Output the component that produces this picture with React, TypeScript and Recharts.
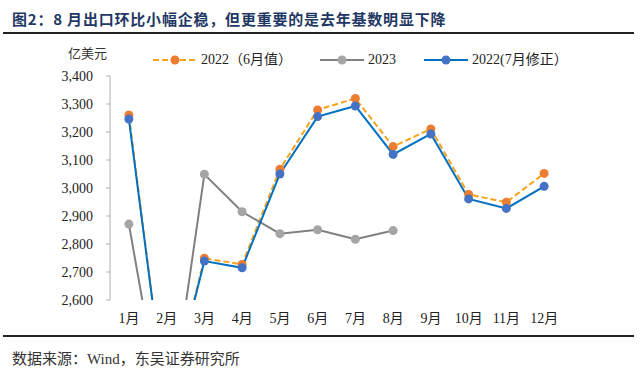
import React from 'react';
import { LineChart, Line, XAxis, YAxis } from 'recharts';

const months = ['1月', '2月', '3月', '4月', '5月', '6月', '7月', '8月', '9月', '10月', '11月', '12月'];
const v2022June = [3261, 2200, 2749, 2727, 3067, 3279, 3320, 3148, 3211, 2977, 2949, 3052];
const v2023 = [2871, 2110, 3049, 2915, 2837, 2851, 2817, 2848];
const v2022July = [3246, 2205, 2739, 2715, 3050, 3255, 3293, 3120, 3193, 2961, 2927, 3006];
const yTicks = [2600, 2700, 2800, 2900, 3000, 3100, 3200, 3300, 3400];

const series = [
  { key: 'june', name: '2022（6月值）', line: '#F7A21B', dot: '#ED7D31', dash: '6 3' },
  { key: 'y2023', name: '2023', line: '#808080', dot: '#A5A5A5', dash: undefined },
  { key: 'july', name: '2022(7月修正）', line: '#0070C0', dot: '#4472C4', dash: undefined },
];

const data = months.map((m, i) => {
  const row: any = { x: i + 1, month: m, june: v2022June[i], july: v2022July[i] };
  if (i < v2023.length) row.y2023 = v2023[i];
  return row;
});

const centerTicks = months.map((_, i) => i + 1);
const boundaryTicks = months.map((_, i) => i + 0.5).concat([months.length + 0.5]);

const serif = "'Liberation Serif', 'Times New Roman', 'Noto Sans CJK SC', serif";

function LegendIcon({ s }: { s: any }) {
  return (
    <svg width={44} height={12} style={{ display: 'block' }}>
      <line x1={0} y1={6} x2={44} y2={6} stroke={s.line} strokeWidth={2} strokeDasharray={s.dash} />
      <circle cx={22} cy={6} r={4.5} fill={s.dot} />
    </svg>
  );
}

export default function App() {
  return (
    <div style={{ position: 'absolute', left: 0, top: 0, width: 640, height: 370, background: '#fff', overflow: 'hidden' }}>
      <div
        style={{
          position: 'absolute', left: 12, top: 10, fontSize: 15, lineHeight: '18px', fontWeight: 'bold',
          color: '#1F3864', letterSpacing: 0.8, fontFamily: "'Noto Sans CJK SC', sans-serif", whiteSpace: 'nowrap',
        }}
      >
        图2：8 月出口环比小幅企稳，但更重要的是去年基数明显下降
      </div>
      <div style={{ position: 'absolute', left: 3, top: 32, width: 631, height: 2, background: '#222' }} />

      <div style={{ position: 'absolute', left: 68, top: 45, fontSize: 13, lineHeight: '16px', color: '#333', fontFamily: "'Noto Sans CJK SC', sans-serif" }}>
        亿美元
      </div>

      <div style={{ position: 'absolute', left: 153, top: 51, display: 'flex', alignItems: 'center', fontFamily: serif, fontSize: 14, color: '#222', whiteSpace: 'nowrap' }}>
        {series.map((s, i) => (
          <div key={s.key} style={{ display: 'flex', alignItems: 'center', marginRight: i < series.length - 1 ? 28 : 0 }}>
            <LegendIcon s={s} />
            <span style={{ marginLeft: 4, lineHeight: '18px' }}>{s.name}</span>
          </div>
        ))}
      </div>

      <div style={{ position: 'absolute', left: 0, top: 0 }}>
        <LineChart width={640} height={370} data={data} margin={{ top: 76, right: 77, bottom: 40, left: 50 }}>
          <XAxis
            xAxisId="a"
            type="number"
            dataKey="x"
            domain={[0.5, months.length + 0.5]}
            ticks={boundaryTicks}
            tickFormatter={() => ''}
            height={0}
            tickSize={4}
            stroke="#B0B0B0"
            axisLine={{ stroke: '#B0B0B0' }}
            tickLine={{ stroke: '#B0B0B0' }}
            interval={0}
            allowDecimals
          />
          <XAxis
            xAxisId="b"
            type="number"
            dataKey="x"
            domain={[0.5, months.length + 0.5]}
            ticks={centerTicks}
            tickFormatter={(v: number) => months[v - 1]}
            height={30}
            tickSize={4}
            tickMargin={9}
            axisLine={false}
            tickLine={false}
            interval={0}
            tick={{ fill: '#222', fontSize: 14, fontFamily: serif }}
          />
          <YAxis
            type="number"
            domain={[2600, 3400]}
            ticks={yTicks}
            allowDataOverflow
            width={60}
            tickSize={4}
            tickMargin={13}
            interval={0}
            axisLine={{ stroke: '#B0B0B0' }}
            tickLine={{ stroke: '#B0B0B0' }}
            tickFormatter={(v: number) => v.toLocaleString('en-US')}
            tick={{ fill: '#222', fontSize: 14, fontFamily: serif }}
          />
          {series.map((s) => (
            <Line
              key={s.key}
              xAxisId="b"
              dataKey={s.key}
              type="linear"
              stroke={s.line}
              strokeWidth={2}
              strokeDasharray={s.dash}
              dot={{ r: 4.5, fill: s.dot, stroke: s.dot, strokeWidth: 0 }}
              activeDot={false}
              isAnimationActive={false}
              connectNulls={false}
            />
          ))}
        </LineChart>
      </div>

      <div style={{ position: 'absolute', left: 3, top: 335, width: 631, height: 2, background: '#222' }} />
      <div style={{ position: 'absolute', left: 12, top: 349, fontSize: 15, lineHeight: '18px', color: '#333', fontFamily: "'Noto Sans CJK SC', sans-serif", whiteSpace: 'nowrap' }}>
        数据来源：<span style={{ fontFamily: serif }}>Wind</span>，东吴证券研究所
      </div>
    </div>
  );
}
